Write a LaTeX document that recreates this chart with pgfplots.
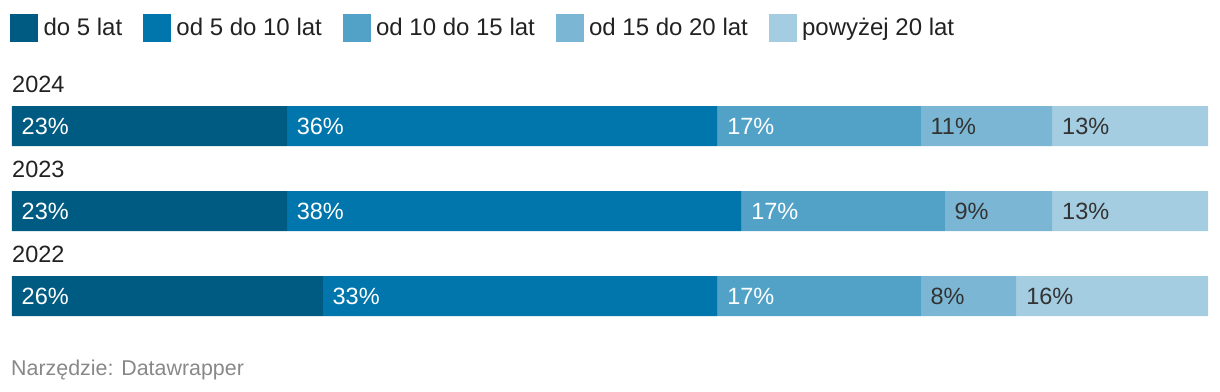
\documentclass[border=0pt]{standalone}
\usepackage{fontspec}
\setmainfont{Liberation Sans}
\usepackage{pgfplots}
\pgfplotsset{compat=1.18}
\definecolor{c1}{HTML}{005B82}
\definecolor{c2}{HTML}{0076AC}
\definecolor{c3}{HTML}{52A2C8}
\definecolor{c4}{HTML}{7BB7D4}
\definecolor{c5}{HTML}{A4CDE2}
\definecolor{txt}{HTML}{222222}
\definecolor{lbl}{HTML}{333333}
\definecolor{src}{HTML}{888888}
\newcommand{\fs}{\fontsize{23.5bp}{27bp}\selectfont}
\newcommand{\fsl}{\fontsize{24bp}{28bp}\selectfont}
\newcommand{\fss}{\fontsize{21.4bp}{25bp}\selectfont}
\begin{document}
\begin{tikzpicture}
\path[use as bounding box] (0,0) rectangle (1220bp,-392bp);
\begin{axis}[
  at={(12bp,-317.25bp)}, anchor=south west,
  scale only axis, width=1196bp, height=212.5bp,
  xmin=0, xmax=100, ymin=-0.25, ymax=2.25,
  xbar stacked, bar width=40bp,
  hide axis, clip=false,
  legend columns=5,
  legend image code/.code={\fill[#1] (0bp,-14.3bp) rectangle (28bp,13.7bp);},
  legend style={at={(-0.00167,1.427)}, anchor=north west, draw=none, fill=none,
    inner sep=0pt, outer sep=0pt, font=\fsl, text=txt,
    nodes={inner sep=0pt},
    /tikz/every odd column/.append style={column sep=5.5bp},
    /tikz/every even column/.append style={column sep=20.7bp}},
]
\addplot[fill=c1, draw=none] coordinates {(26,0) (23,1) (23,2)};
\addplot[fill=c2, draw=none] coordinates {(33,0) (38,1) (36,2)};
\addplot[fill=c3, draw=none] coordinates {(17,0) (17,1) (17,2)};
\addplot[fill=c4, draw=none] coordinates {(8,0) (9,1) (11,2)};
\addplot[fill=c5, draw=none] coordinates {(16,0) (13,1) (13,2)};
\legend{do 5 lat, od 5 do 10 lat, od 10 do 15 lat, od 15 do 20 lat, powyżej 20 lat}
% year labels
\tikzset{yl/.style={anchor=base west, inner sep=0pt, text=txt, font=\fs, yshift=34bp}}
\node[yl] at (axis cs:0,2) {2024};
\node[yl] at (axis cs:0,1) {2023};
\node[yl] at (axis cs:0,0) {2022};
% label anchors
\coordinate (a1) at (axis cs:0,2);
\coordinate (a2) at (axis cs:23,2);
\coordinate (a3) at (axis cs:59,2);
\coordinate (a4) at (axis cs:76,2);
\coordinate (a5) at (axis cs:87,2);
\coordinate (b1) at (axis cs:0,1);
\coordinate (b2) at (axis cs:23,1);
\coordinate (b3) at (axis cs:61,1);
\coordinate (b4) at (axis cs:78,1);
\coordinate (b5) at (axis cs:87,1);
\coordinate (c1) at (axis cs:0,0);
\coordinate (c2) at (axis cs:26,0);
\coordinate (c3) at (axis cs:59,0);
\coordinate (c4) at (axis cs:76,0);
\coordinate (c5) at (axis cs:84,0);
\end{axis}
\tikzset{vl/.style={anchor=base west, inner sep=0pt, font=\fs, xshift=9.5bp, yshift=-8.5bp}}
\node[vl, text=white] at (a1) {23\%};
\node[vl, text=white] at (a2) {36\%};
\node[vl, text=white] at (a3) {17\%};
\node[vl, text=lbl] at (a4) {11\%};
\node[vl, text=lbl] at (a5) {13\%};
\node[vl, text=white] at (b1) {23\%};
\node[vl, text=white] at (b2) {38\%};
\node[vl, text=white] at (b3) {17\%};
\node[vl, text=lbl] at (b4) {9\%};
\node[vl, text=lbl] at (b5) {13\%};
\node[vl, text=white] at (c1) {26\%};
\node[vl, text=white] at (c2) {33\%};
\node[vl, text=white] at (c3) {17\%};
\node[vl, text=lbl] at (c4) {8\%};
\node[vl, text=lbl] at (c5) {16\%};
\node[anchor=base west, inner sep=0pt, text=src, font=\fss] at (11bp,-375.5bp) {Narzędzie: Datawrapper};
\end{tikzpicture}
\end{document}
